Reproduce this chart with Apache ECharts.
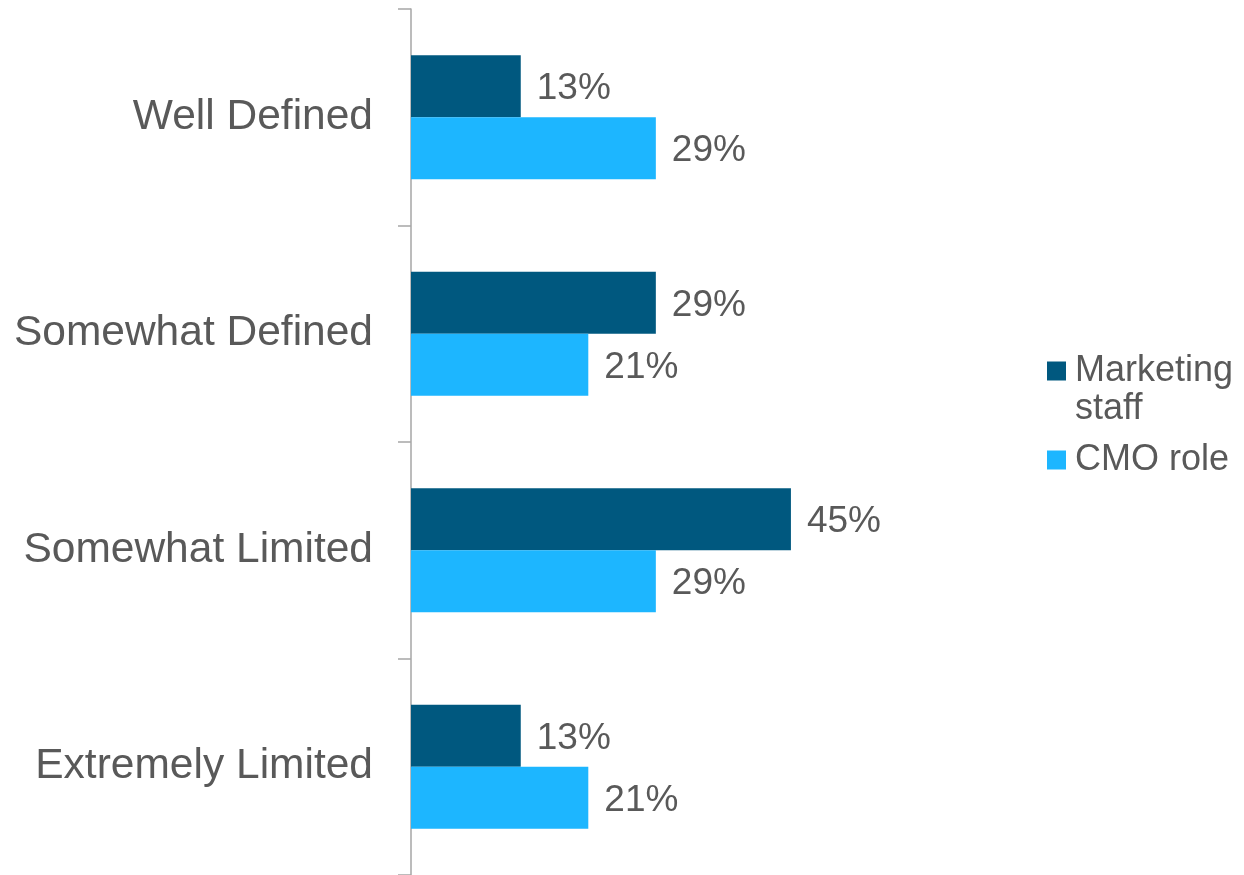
<!DOCTYPE html>
<html>
<head>
<meta charset="utf-8">
<script src="https://cdn.jsdelivr.net/npm/echarts@6/dist/echarts.min.js"></script>
<style>
  html, body { margin: 0; padding: 0; background: #fff; }
  #chart { width: 1244px; height: 875px; }
</style>
</head>
<body>
<div id="chart"></div>
<script>
// Role definition by group
const categories = ['Well Defined', 'Somewhat Defined', 'Somewhat Limited', 'Extremely Limited'];
const seriesNames = ['Marketing staff', 'CMO role'];
const marketingStaff = [13, 29, 45, 13];
const cmoRole = [29, 21, 29, 21];

const FONT = '"Liberation Sans", Arial, sans-serif';
const TEXT = '#595959';
const DARK = '#00587F';
const LIGHT = '#1DB6FF';

const chart = echarts.init(document.getElementById('chart'), null, { renderer: 'canvas' });

const valueLabel = {
  show: true,
  position: 'right',
  distance: 16,
  offset: [0, 3],
  formatter: '{c}%',
  color: TEXT,
  fontSize: 37,
  fontFamily: FONT
};

chart.setOption({
  animation: false,
  backgroundColor: '#ffffff',
  grid: { left: 411, top: 9, bottom: 0, right: 242, containLabel: false },
  xAxis: {
    type: 'value',
    min: 0,
    max: 70,
    show: false
  },
  yAxis: {
    type: 'category',
    data: categories,
    inverse: true,
    axisLine: { show: true, lineStyle: { color: '#A6A6A6', width: 1.5 } },
    axisTick: { show: true, length: 13, lineStyle: { color: '#A6A6A6', width: 1.5 } },
    axisLabel: { color: TEXT, fontSize: 42.5, fontFamily: FONT, margin: 38, padding: [5, 0, 0, 0] },
    splitLine: { show: false }
  },
  legend: [
    {
      data: [seriesNames[0]],
      left: 1047,
      top: 312,
      padding: 0,
      orient: 'vertical',
      icon: 'rect',
      itemWidth: 19,
      itemHeight: 19,
      // blank first line keeps "Marketing" level with the swatch
      formatter: () => '\u00a0\nMarketing\nstaff',
      textStyle: { color: TEXT, fontSize: 36, fontFamily: FONT, lineHeight: 38, padding: [4, 0, 0, 4] }
    },
    {
      data: [seriesNames[1]],
      left: 1047,
      top: 439,
      padding: 0,
      orient: 'vertical',
      icon: 'rect',
      itemWidth: 19,
      itemHeight: 19,
      textStyle: { color: TEXT, fontSize: 36, fontFamily: FONT, lineHeight: 38, padding: [4, 0, 0, 4] }
    }
  ],
  series: [
    {
      name: seriesNames[0],
      type: 'bar',
      data: marketingStaff,
      barWidth: 62,
      barGap: '0%',
      itemStyle: { color: DARK },
      label: valueLabel
    },
    {
      name: seriesNames[1],
      type: 'bar',
      data: cmoRole,
      barWidth: 62,
      barGap: '0%',
      itemStyle: { color: LIGHT },
      label: valueLabel
    }
  ]
});
</script>
</body>
</html>
